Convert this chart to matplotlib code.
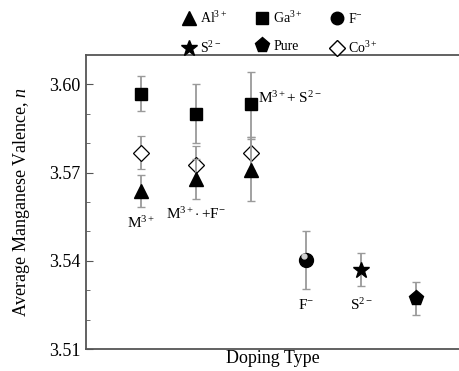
import matplotlib
matplotlib.use("Agg")
import matplotlib.pyplot as plt
from matplotlib.lines import Line2D

plt.rcParams['font.family'] = ['Liberation Serif', 'DejaVu Serif']
plt.rcParams['mathtext.fontset'] = 'custom'
plt.rcParams['mathtext.rm'] = 'Liberation Serif'
plt.rcParams['mathtext.it'] = 'Liberation Serif:italic'
plt.rcParams['mathtext.bf'] = 'Liberation Serif:bold'

# Data
group_pos = [1, 2, 3]
ga_vals = [3.5969, 3.5901, 3.5932]
ga_err = [0.0059, 0.0101, 0.0111]
co_vals = [3.5768, 3.5727, 3.5765]
co_err = [0.0056, 0.0063, 0.0055]
al_vals = [3.5637, 3.5678, 3.5708]
al_err = [0.0055, 0.0068, 0.0105]
f_pos, f_val, f_err = 4, 3.5403, 0.0099
s_pos, s_val, s_err = 5, 3.5370, 0.0057
p_pos, p_val, p_err = 6, 3.5272, 0.0057

yticks = [3.51, 3.54, 3.57, 3.60]

fig = plt.figure(figsize=(4.59, 3.71), dpi=100)
ax = fig.add_axes([86/459, 22/371, 1 - 86/459, 294/371])

ecol = '#9a9a9a'
ekw = dict(ecolor=ecol, elinewidth=1.3, capsize=3, capthick=1.0, linestyle='none')

ax.errorbar(group_pos, ga_vals, yerr=ga_err, marker='s', ms=9, mfc='black', mec='black', zorder=3, **ekw)
ax.errorbar(group_pos, co_vals, yerr=co_err, marker='D', ms=8, mfc='white', mec='black', mew=0.9, zorder=3, **ekw)
ax.errorbar(group_pos, al_vals, yerr=al_err, marker='^', ms=10, mfc='black', mec='black', zorder=4, **ekw)
ax.errorbar([f_pos], [f_val], yerr=[f_err], marker='o', ms=10, mfc='black', mec='black', zorder=3, **ekw)
ax.plot([f_pos - 0.04], [f_val + 0.0012], marker='o', ms=3.5, color='#d0d0d0', zorder=5, linestyle='none')
ax.errorbar([s_pos], [s_val], yerr=[s_err], marker='*', ms=12, mfc='black', mec='black', zorder=3, **ekw)
ax.errorbar([p_pos], [p_val], yerr=[p_err], marker='p', ms=11, mfc='black', mec='black', zorder=3, **ekw)

ax.set_xlim(0, 373/55)
ax.set_ylim(3.51, 3.61)
ax.set_yticks(yticks)
ax.set_yticklabels(['%.2f' % v for v in yticks])
ax.set_yticks([3.52, 3.53, 3.55, 3.56, 3.58, 3.59], minor=True)
ax.set_xticks([])
ax.tick_params(axis='y', which='major', length=5, direction='in', labelsize=13, color='#555555', pad=4)
ax.tick_params(axis='y', which='minor', length=3, direction='in', color='#555555')
ax.spines['right'].set_visible(False)
for sp in ['left', 'bottom', 'top']:
    ax.spines[sp].set_color('#555555')
    ax.spines[sp].set_linewidth(1.3)

ax.set_xlabel('Doping Type', fontsize=13, labelpad=1)
ax.set_ylabel('Average Manganese Valence, $\\it{n}$', fontsize=13, labelpad=12)

# annotations
afs = 11
ax.text(1, 3.5555, 'M$^{3+}$', ha='center', va='top', fontsize=afs)
ax.text(2, 3.5585, 'M$^{3+}\\!\\cdot$+F$^{-}$', ha='center', va='top', fontsize=afs)
ax.text(3.12, 3.5955, 'M$^{3+}$+ S$^{2-}$', ha='left', va='center', fontsize=afs)
ax.text(4, 3.5275, 'F$^{-}$', ha='center', va='top', fontsize=afs)
ax.text(5, 3.5275, 'S$^{2-}$', ha='center', va='top', fontsize=afs)

# legend (column-major order for ncol=3)
def h(marker, ms, fc):
    return Line2D([], [], marker=marker, ms=ms, mfc=fc, mec='black', color='black', linestyle='none')

handles = [h('^', 10, 'black'), h('*', 12, 'black'), h('s', 9, 'black'),
           h('p', 11, 'black'), h('o', 9, 'black'), h('D', 8, 'white')]
labels = ['Al$^{3+}$', 'S$^{2-}$', 'Ga$^{3+}$', 'Pure', 'F$^{-}$', 'Co$^{3+}$']
fig.legend(handles, labels, ncol=3, loc='center', bbox_to_anchor=(0.61, 1 - 33/371),
           frameon=False, fontsize=10, handlelength=1.0, handletextpad=0.3,
           columnspacing=2.0, labelspacing=1.0)

fig.savefig('out.png', dpi=100)
